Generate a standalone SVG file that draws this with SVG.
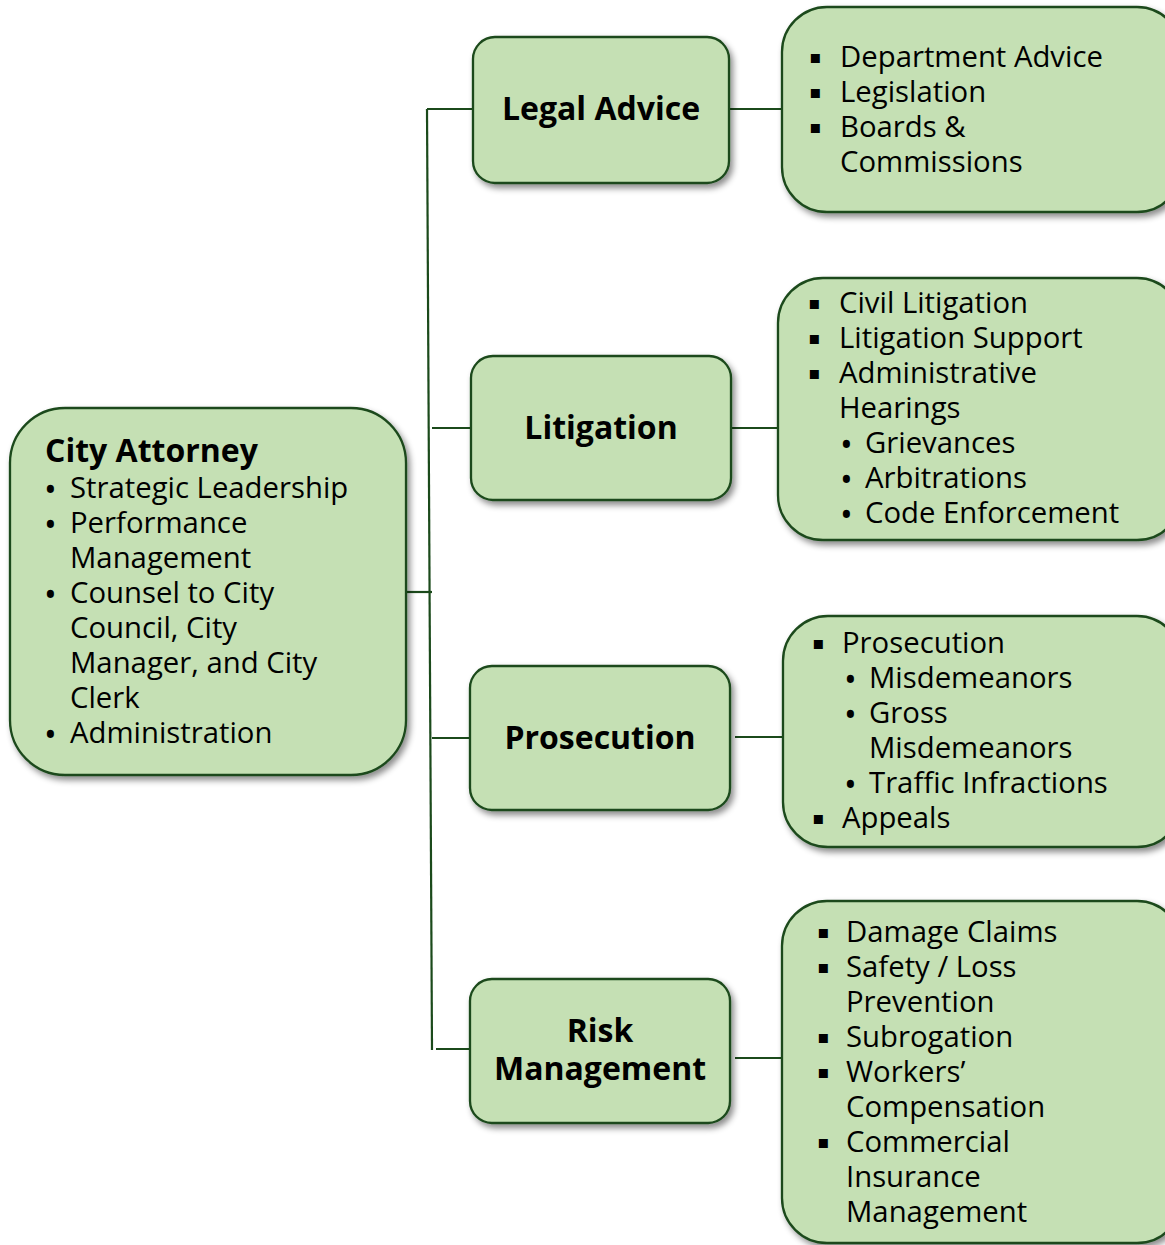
<svg xmlns="http://www.w3.org/2000/svg" width="1165" height="1245" viewBox="0 0 1165 1245">
  <style>
    .box { fill: #c5e0b4; stroke: #1b4a1b; stroke-width: 2.3; filter: url(#shadow); }
    .wire { stroke: #1b4a1b; stroke-width: 2.2; fill: none; }
    text { font-family: "Open Sans", "Noto Sans", "DejaVu Sans", sans-serif; fill: #000; }
    .t { font-size: 29.3px; }
    .b { font-size: 34px; }
    .h { font-size: 32px; font-weight: bold; }
    .sq { font-family: "DejaVu Sans", sans-serif; font-size: 18px; }
  </style>
  <defs>
    <filter id="shadow" x="-10%" y="-10%" width="130%" height="130%">
      <feDropShadow dx="3" dy="4" stdDeviation="3" flood-color="#000" flood-opacity="0.45"/>
    </filter>
  </defs>
  <rect width="1165" height="1245" fill="#fff"/>

  <!-- connectors -->
  <g id="connectors">
    <line class="wire" x1="427" y1="109" x2="432" y2="1050"/>
    <line class="wire" x1="406" y1="592" x2="432" y2="592"/>
    <line class="wire" x1="427" y1="109" x2="473" y2="109"/>
    <line class="wire" x1="432" y1="428" x2="471" y2="428"/>
    <line class="wire" x1="432" y1="738" x2="470" y2="738"/>
    <line class="wire" x1="436" y1="1049" x2="470" y2="1049"/>
    <line class="wire" x1="729" y1="109" x2="782" y2="109"/>
    <line class="wire" x1="731" y1="428" x2="778" y2="428"/>
    <line class="wire" x1="735" y1="737" x2="783" y2="737"/>
    <line class="wire" x1="735" y1="1058" x2="782" y2="1058"/>
  </g>

  <!-- root -->
  <g id="city-attorney">
    <rect class="box" x="10" y="408" width="396" height="367" rx="55" ry="55"/>
    <text class="h" x="45" y="462">City Attorney</text>
    <text class="b"><tspan x="44" y="502">•</tspan><tspan x="44" y="537">•</tspan><tspan x="44" y="607">•</tspan><tspan x="44" y="747">•</tspan></text>
    <text class="t">
      <tspan x="70" y="498">Strategic Leadership</tspan>
      <tspan x="70" y="533">Performance</tspan>
      <tspan x="70" y="568">Management</tspan>
      <tspan x="70" y="603">Counsel to City</tspan>
      <tspan x="70" y="638">Council, City</tspan>
      <tspan x="70" y="673">Manager, and City</tspan>
      <tspan x="70" y="708">Clerk</tspan>
      <tspan x="70" y="743">Administration</tspan>
    </text>
  </g>

  <!-- divisions -->
  <g id="legal-advice">
    <rect class="box" x="473" y="37" width="256" height="146" rx="22" ry="22"/>
    <text class="h" x="601" y="120" text-anchor="middle">Legal Advice</text>
  </g>
  <g id="litigation">
    <rect class="box" x="471" y="356" width="260" height="144" rx="22" ry="22"/>
    <text class="h" x="601" y="439" text-anchor="middle">Litigation</text>
  </g>
  <g id="prosecution">
    <rect class="box" x="470" y="666" width="260" height="144" rx="22" ry="22"/>
    <text class="h" x="600" y="749" text-anchor="middle">Prosecution</text>
  </g>
  <g id="risk-management">
    <rect class="box" x="470" y="979" width="260" height="144" rx="22" ry="22"/>
    <text class="h" x="600" y="1042" text-anchor="middle">Risk</text>
    <text class="h" x="600" y="1080" text-anchor="middle">Management</text>
  </g>

  <!-- duties -->
  <g id="legal-advice-duties">
    <rect class="box" x="782" y="7" width="400" height="205" rx="45" ry="45"/>
    <text class="sq"><tspan x="809" y="63">▪</tspan><tspan x="809" y="98">▪</tspan><tspan x="809" y="133">▪</tspan></text>
    <text class="t">
      <tspan x="840" y="67">Department Advice</tspan>
      <tspan x="840" y="102">Legislation</tspan>
      <tspan x="840" y="137">Boards &amp;</tspan>
      <tspan x="840" y="172">Commissions</tspan>
    </text>
  </g>
  <g id="litigation-duties">
    <rect class="box" x="778" y="278" width="404" height="262" rx="45" ry="45"/>
    <text class="sq"><tspan x="808" y="309">▪</tspan><tspan x="808" y="344">▪</tspan><tspan x="808" y="379">▪</tspan></text>
    <text class="b"><tspan x="840" y="457">•</tspan><tspan x="840" y="492">•</tspan><tspan x="840" y="527">•</tspan></text>
    <text class="t">
      <tspan x="839" y="313">Civil Litigation</tspan>
      <tspan x="839" y="348">Litigation Support</tspan>
      <tspan x="839" y="383">Administrative</tspan>
      <tspan x="839" y="418">Hearings</tspan>
      <tspan x="865" y="453">Grievances</tspan>
      <tspan x="865" y="488">Arbitrations</tspan>
      <tspan x="865" y="523">Code Enforcement</tspan>
    </text>
  </g>
  <g id="prosecution-duties">
    <rect class="box" x="783" y="616" width="399" height="231" rx="45" ry="45"/>
    <text class="sq"><tspan x="812" y="649">▪</tspan><tspan x="812" y="824">▪</tspan></text>
    <text class="b"><tspan x="844" y="692">•</tspan><tspan x="844" y="727">•</tspan><tspan x="844" y="797">•</tspan></text>
    <text class="t">
      <tspan x="842" y="653">Prosecution</tspan>
      <tspan x="869" y="688">Misdemeanors</tspan>
      <tspan x="869" y="723">Gross</tspan>
      <tspan x="869" y="758">Misdemeanors</tspan>
      <tspan x="869" y="793">Traffic Infractions</tspan>
      <tspan x="842" y="828">Appeals</tspan>
    </text>
  </g>
  <g id="risk-management-duties">
    <rect class="box" x="782" y="901" width="400" height="342" rx="45" ry="45"/>
    <text class="sq"><tspan x="817" y="938">▪</tspan><tspan x="817" y="973">▪</tspan><tspan x="817" y="1043">▪</tspan><tspan x="817" y="1078">▪</tspan><tspan x="817" y="1148">▪</tspan></text>
    <text class="t">
      <tspan x="846" y="942">Damage Claims</tspan>
      <tspan x="846" y="977">Safety / Loss</tspan>
      <tspan x="846" y="1012">Prevention</tspan>
      <tspan x="846" y="1047">Subrogation</tspan>
      <tspan x="846" y="1082">Workers’</tspan>
      <tspan x="846" y="1117">Compensation</tspan>
      <tspan x="846" y="1152">Commercial</tspan>
      <tspan x="846" y="1187">Insurance</tspan>
      <tspan x="846" y="1222">Management</tspan>
    </text>
  </g>
</svg>
